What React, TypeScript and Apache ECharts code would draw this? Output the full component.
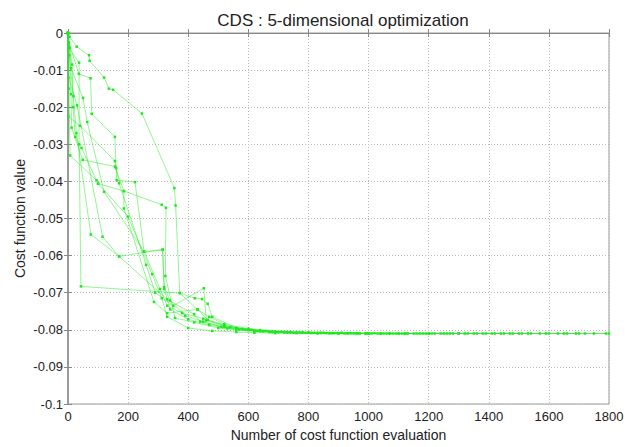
import React, { useEffect, useRef } from "react";
import * as echarts from "echarts";

const titleText = "CDS : 5-dimensional optimization";
const xAxisName = "Number of cost function evaluation";
const yAxisName = "Cost function value";

const run1 = [[0,0],[5,-0.001],[29,-0.0037],[70,-0.006],[72,-0.0075],[120,-0.012],[136,-0.015],[150,-0.0153],[246,-0.0217],[354,-0.0418],[358,-0.0465],[372,-0.0701],[430,-0.0745],[470,-0.0765],[520,-0.0785],[600,-0.0797],[640,-0.0801],[690,-0.0804],[740,-0.0806],[800,-0.0807],[850,-0.0808],[910,-0.0808],[960,-0.0809],[1020,-0.0809],[1080,-0.081],[1130,-0.081],[1190,-0.081],[1250,-0.081],[1300,-0.081],[1360,-0.081],[1420,-0.081],[1480,-0.081],[1540,-0.081],[1600,-0.081],[1660,-0.081],[1720,-0.081],[1790,-0.081]];
const run2 = [[0,0],[3,-0.0025],[36,-0.011],[75,-0.0122],[79,-0.0218],[156,-0.028],[160,-0.0364],[162,-0.0397],[223,-0.0402],[253,-0.0589],[306,-0.069],[330,-0.0735],[380,-0.0755],[450,-0.077],[520,-0.0788],[600,-0.0799],[660,-0.0803],[710,-0.0805],[770,-0.0807],[830,-0.0808],[880,-0.0809],[940,-0.0809],[1000,-0.081],[1060,-0.081],[1110,-0.081],[1170,-0.081],[1220,-0.081]];
const run3 = [[0,0],[4,-0.004],[10,-0.0165],[12,-0.0255],[49,-0.0342],[156,-0.036],[186,-0.0426],[186,-0.0473],[286,-0.0725],[330,-0.0755],[432,-0.0745],[465,-0.0773],[540,-0.0793],[580,-0.0798],[630,-0.0803],[680,-0.0806],[730,-0.0807],[790,-0.0808],[840,-0.0809],[900,-0.0809],[950,-0.081],[1000,-0.081]];
const run4 = [[0,0],[2,-0.004],[37,-0.008],[37,-0.03],[43,-0.0683],[372,-0.0701],[422,-0.0715],[446,-0.0717],[465,-0.073],[480,-0.0765],[560,-0.0795],[610,-0.08],[650,-0.0803],[700,-0.0806],[760,-0.0807],[820,-0.0808],[870,-0.0809],[930,-0.0809],[990,-0.081],[1040,-0.081],[1100,-0.081],[1160,-0.081],[1210,-0.081],[1270,-0.081],[1330,-0.081],[1390,-0.081],[1450,-0.081],[1510,-0.081],[1570,-0.081],[1630,-0.081],[1690,-0.081],[1750,-0.081],[1800,-0.081]];
const run5 = [[0,0],[3,-0.015],[7,-0.033],[95,-0.0397],[100,-0.0406],[186,-0.0426],[312,-0.0463],[326,-0.0471],[324,-0.0655],[356,-0.0768],[420,-0.078],[500,-0.0795],[560,-0.08],[620,-0.0804],[670,-0.0806],[720,-0.0807],[780,-0.0808],[860,-0.0809],[920,-0.081],[970,-0.081],[1030,-0.081],[1090,-0.081],[1150,-0.081],[1200,-0.081],[1260,-0.081],[1320,-0.081],[1380,-0.081],[1440,-0.081],[1500,-0.081]];
const run6 = [[0,0],[4,-0.006],[18,-0.017],[28,-0.027],[76,-0.0543],[170,-0.0602],[315,-0.0584],[320,-0.0685],[339,-0.0721],[390,-0.0762],[450,-0.0778],[510,-0.0792],[570,-0.0799],[640,-0.0804],[700,-0.0806],[750,-0.0808],[810,-0.0809],[890,-0.0809],[960,-0.081],[1010,-0.081],[1070,-0.081],[1120,-0.081]];
const run7 = [[0,0],[2,-0.012],[30,-0.0195],[115,-0.0549],[170,-0.0602],[330,-0.0718],[420,-0.0758],[440,-0.0778],[520,-0.0792],[590,-0.08],[650,-0.0804],[720,-0.0806],[780,-0.0807],[840,-0.0808],[900,-0.0809],[970,-0.0809],[1040,-0.081],[1100,-0.081]];
const run8 = [[0,0],[6,-0.004],[10,-0.0095],[50,-0.0175],[64,-0.024],[120,-0.0428],[253,-0.0589],[315,-0.0584],[320,-0.069],[340,-0.0745],[400,-0.0772],[470,-0.0787],[530,-0.0796],[600,-0.0801],[670,-0.0805],[730,-0.0807],[800,-0.0808],[870,-0.0809],[930,-0.081],[990,-0.081],[1050,-0.081],[1120,-0.081],[1180,-0.081],[1240,-0.081],[1300,-0.081]];
const run9 = [[0,0],[1,-0.0225],[40,-0.025],[156,-0.0345],[170,-0.0405],[260,-0.0625],[290,-0.07],[350,-0.0735],[452,-0.0688],[460,-0.0775],[520,-0.079],[620,-0.0802],[680,-0.0805],[740,-0.0807],[810,-0.0808],[880,-0.0809],[940,-0.0809],[1000,-0.081],[1070,-0.081],[1130,-0.081],[1200,-0.081],[1280,-0.081],[1350,-0.081],[1410,-0.081],[1470,-0.081],[1530,-0.081],[1590,-0.081],[1650,-0.081],[1700,-0.081]];
const run10 = [[0,0],[2,-0.003],[14,-0.0085],[17,-0.02],[24,-0.028],[45,-0.031],[100,-0.0406],[200,-0.0495],[280,-0.065],[312,-0.0715],[330,-0.0765],[400,-0.0795],[480,-0.0803],[560,-0.0806],[620,-0.0808],[690,-0.0809],[760,-0.0809],[830,-0.081],[900,-0.081]];

const runs = [run1, run2, run3, run4, run5, run6, run7, run8, run9, run10];

export default function App() {
  const ref = useRef<HTMLDivElement>(null);
  useEffect(() => {
    if (!ref.current) return;
    const chart = echarts.init(ref.current, undefined, { renderer: "svg" });
    const font = "'Liberation Sans', Arial, sans-serif";
    const fmt = (v: number) => String(Number(v.toFixed(2)));
    chart.setOption({
      animation: false,
      backgroundColor: "#ffffff",
      title: {
        text: titleText,
        left: 338,
        textAlign: "center",
        top: 7,
        textStyle: { fontFamily: font, fontSize: 17, fontWeight: "normal", color: "#222" },
      },
      grid: { left: 68, right: 30, top: 33, bottom: 38, show: true, borderColor: "#999", borderWidth: 1 },
      xAxis: [
        {
          type: "value", min: 0, max: 1800, interval: 200,
          name: xAxisName, nameLocation: "middle", nameGap: 24,
          nameTextStyle: { fontFamily: font, fontSize: 14, color: "#222" },
          axisLine: { show: true, lineStyle: { color: "#888" } },
          axisTick: { show: true, inside: true, length: 4, lineStyle: { color: "#888" } },
          axisLabel: { fontFamily: font, fontSize: 13, color: "#222", margin: 6, formatter: (v: number) => String(v) },
          splitLine: { show: true, lineStyle: { color: "#bbb", type: [1, 2] } },
        },
        {
          type: "value", min: 0, max: 1800, interval: 200, position: "top",
          axisLine: { show: true, lineStyle: { color: "#888" } },
          axisTick: { show: true, inside: true, length: 4, lineStyle: { color: "#888" } },
          axisLabel: { show: false }, splitLine: { show: false },
        },
      ],
      yAxis: [
        {
          type: "value", min: -0.1, max: 0, interval: 0.01,
          name: yAxisName, nameLocation: "middle", nameGap: 41, nameRotate: 90,
          nameMoveOverlap: false,
          nameTextStyle: { fontFamily: font, fontSize: 14, color: "#222" },
          axisLine: { show: true, lineStyle: { color: "#888" } },
          axisTick: { show: true, inside: true, length: 4, lineStyle: { color: "#888" } },
          axisLabel: { fontFamily: font, fontSize: 13, color: "#222", margin: 5, formatter: fmt },
          splitLine: { show: true, lineStyle: { color: "#bbb", type: [1, 2] } },
        },
        {
          type: "value", min: -0.1, max: 0, interval: 0.01, position: "right",
          axisLine: { show: true, lineStyle: { color: "#999", width: 2 } },
          axisTick: { show: true, inside: true, length: 4, lineStyle: { color: "#888" } },
          axisLabel: { show: false }, splitLine: { show: false },
        },
      ],
      series: runs.map((r, i) => ({
        type: "line",
        name: "run" + (i + 1),
        data: r,
        xAxisIndex: 0,
        yAxisIndex: 0,
        symbol: "rect",
        symbolSize: 2.5,
        showSymbol: true,
        lineStyle: { color: "rgba(40,235,40,0.5)", width: 1 },
        itemStyle: { color: "#1ee81e" },
      })),
    });
    return () => chart.dispose();
  }, []);
  return <div ref={ref} style={{ width: 639, height: 447, position: "absolute", left: 0, top: 0 }} />;
}
